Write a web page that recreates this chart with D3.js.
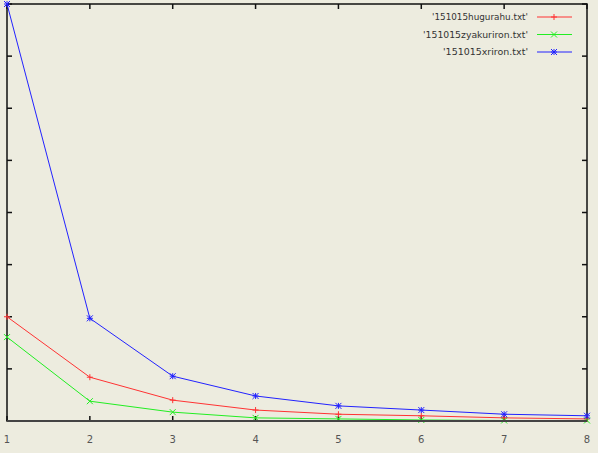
<!DOCTYPE html>
<html>
<head>
<meta charset="utf-8">
<script src="https://cdn.jsdelivr.net/npm/d3@7"></script>
<style>
  body { margin: 0; background: #edecdf; }
  svg { display: block; }
  text { font-family: "DejaVu Sans", sans-serif; fill: #333; }
</style>
</head>
<body>
<div id="chart"></div>
<script>
const width = 598,
  height = 453;

// data
const xs = [1, 2, 3, 4, 5, 6, 7, 8];
const hugurahu = [2.0, 0.84, 0.40, 0.21, 0.13, 0.10, 0.06, 0.04];
const zyakuriron = [1.61, 0.38, 0.17, 0.06, 0.04, 0.02, 0.01, 0.01];
const xriron = [8.0, 1.97, 0.86, 0.48, 0.29, 0.21, 0.13, 0.10];
const yTicks = [0, 1, 2, 3, 4, 5, 6, 7, 8];

const series = [
  { name: "'151015hugurahu.txt'", values: hugurahu, color: "#f33", marker: "plus", w: 96 },
  { name: "'151015zyakuriron.txt'", values: zyakuriron, color: "#2e2", marker: "cross", w: 105 },
  { name: "'151015xriron.txt'", values: xriron, color: "#22f", marker: "star", w: 85 }
];

const margin = { top: 4, right: 11, bottom: 32, left: 7 };

const svg = d3.select("#chart")
  .append("svg")
  .attr("width", width)
  .attr("height", height);

const x = d3.scaleLinear()
  .domain([1, 8])
  .range([margin.left, width - margin.right]);

const y = d3.scaleLinear()
  .domain([0, 8])
  .range([height - margin.bottom, margin.top]);

// frame
svg.append("rect")
  .attr("x", x(1))
  .attr("y", y(8))
  .attr("width", x(8) - x(1))
  .attr("height", y(0) - y(8))
  .attr("fill", "none")
  .attr("stroke", "#111")
  .attr("stroke-width", 1.5);

// ticks on all four sides, drawn inward
const tickLen = 5;
const g = svg.append("g").attr("stroke", "#111").attr("stroke-width", 1.5);
xs.forEach(v => {
  g.append("line").attr("x1", x(v)).attr("x2", x(v)).attr("y1", y(0)).attr("y2", y(0) - tickLen);
  g.append("line").attr("x1", x(v)).attr("x2", x(v)).attr("y1", y(8)).attr("y2", y(8) + tickLen);
});
yTicks.forEach(v => {
  g.append("line").attr("x1", x(1)).attr("x2", x(1) + tickLen).attr("y1", y(v)).attr("y2", y(v));
  g.append("line").attr("x1", x(8)).attr("x2", x(8) - tickLen).attr("y1", y(v)).attr("y2", y(v));
});

svg.append("g")
  .selectAll("text")
  .data(xs)
  .join("text")
  .attr("x", d => x(d))
  .attr("y", height - 10)
  .attr("text-anchor", "middle")
  .attr("font-size", 10)
  .style("fill", "#555")
  .text(d => d);

function marker(sel, type, color) {
  const s = 3;
  let d = "";
  if (type === "plus" || type === "star") d += `M${-s},0H${s}M0,${-s}V${s}`;
  if (type === "cross" || type === "star") d += `M${-s},${-s}L${s},${s}M${-s},${s}L${s},${-s}`;
  sel.attr("d", d).attr("stroke", color).attr("stroke-width", 1).attr("fill", "none");
}

const line = d3.line()
  .x((d, i) => x(xs[i]))
  .y(d => y(d));

series.forEach(s => {
  svg.append("path")
    .datum(s.values)
    .attr("d", line)
    .attr("fill", "none")
    .attr("stroke", s.color)
    .attr("stroke-width", 1);

  svg.append("g")
    .selectAll("path")
    .data(s.values)
    .join("path")
    .attr("transform", (d, i) => `translate(${x(xs[i])},${y(d)})`)
    .call(marker, s.marker, s.color);
});

// bottom axis line sits on top of the low values, a bit thicker and grey
svg.append("line")
  .attr("x1", x(1)).attr("x2", x(8))
  .attr("y1", y(0)).attr("y2", y(0))
  .attr("stroke", "#444")
  .attr("stroke-width", 2);

// legend
const legend = svg.append("g");
series.forEach((s, i) => {
  const ly = 17 + i * 17.5;
  legend.append("text")
    .attr("x", 528)
    .attr("y", ly + 3)
    .attr("text-anchor", "end")
    .attr("font-size", 9)
    .attr("textLength", s.w)
    .attr("lengthAdjust", "spacingAndGlyphs")
    .text(s.name);
  legend.append("line")
    .attr("x1", 537).attr("x2", 572)
    .attr("y1", ly).attr("y2", ly)
    .attr("stroke", s.color)
    .attr("stroke-width", 1);
  legend.append("path")
    .attr("transform", `translate(554,${ly})`)
    .call(marker, s.marker, s.color);
});
</script>
</body>
</html>
